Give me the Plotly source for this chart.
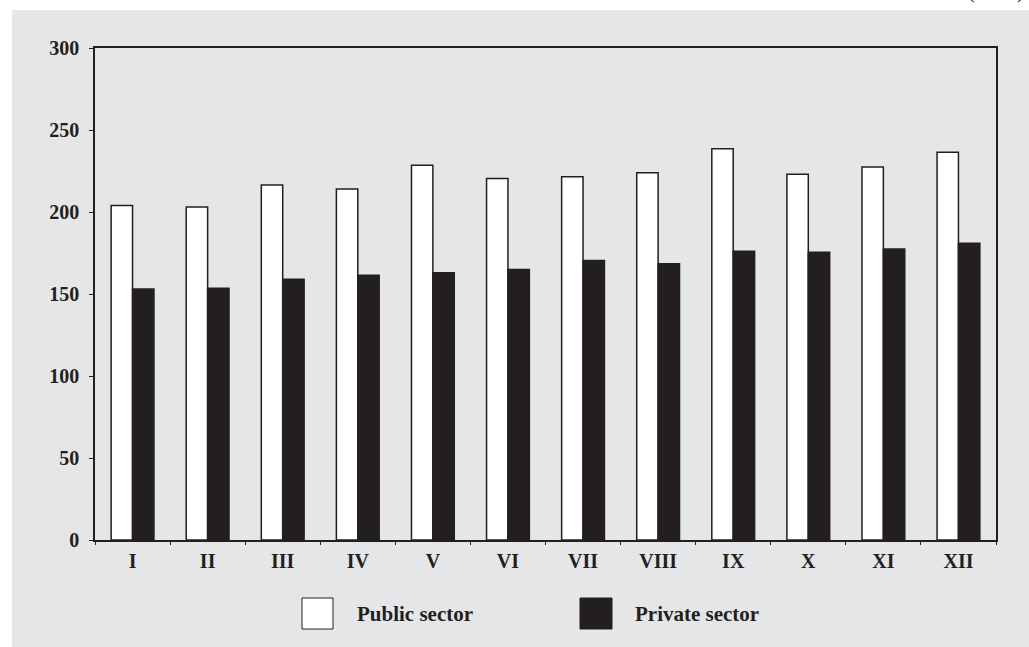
import plotly.graph_objects as go

months = ["I", "II", "III", "IV", "V", "VI", "VII", "VIII", "IX", "X", "XI", "XII"]
public_sector = [204, 203, 216.5, 214, 228.5, 220.5, 221.5, 224, 238.5, 223, 227.5, 236.5]
private_sector = [153, 153.5, 159, 161.5, 163, 165, 170.5, 168.5, 176, 175.5, 177.5, 181]
y_ticks = [0, 50, 100, 150, 200, 250, 300]

W, H = 1029, 647
L, R, T, B = 95, 33, 48, 107
pw, ph = W - L - R, H - T - B

def px(x):
    return (x - L) / pw

def py(y):
    return (H - B - y) / ph

DARK = "#231f20"
BG = "#e5e6e8"
FONT = "Liberation Serif"

fig = go.Figure()
fig.add_trace(go.Bar(x=months, y=public_sector, name="Public sector",
                     marker=dict(color="white", line=dict(color=DARK, width=1.5)),
                     showlegend=False))
fig.add_trace(go.Bar(x=months, y=private_sector, name="Private sector",
                     marker=dict(color=DARK, line=dict(color=DARK, width=1.5)),
                     showlegend=False))

shapes = [
    dict(type="rect", xref="paper", yref="paper", x0=px(12), x1=px(W + 5), y0=py(10), y1=py(H + 5),
         fillcolor=BG, line=dict(width=0), layer="below"),
    # legend boxes
    dict(type="rect", xref="paper", yref="paper", x0=px(302), x1=px(333), y0=py(598), y1=py(629),
         fillcolor="white", line=dict(color=DARK, width=1)),
    dict(type="rect", xref="paper", yref="paper", x0=px(580), x1=px(612), y0=py(598), y1=py(629),
         fillcolor=DARK, line=dict(color=DARK, width=1)),
]

annotations = [
    dict(text="Public sector", xref="paper", yref="paper", x=px(355), y=py(614),
         xanchor="left", yanchor="middle", showarrow=False,
         font=dict(family=FONT, size=21, color=DARK, weight="bold")),
    dict(text="Private sector", xref="paper", yref="paper", x=px(633), y=py(614),
         xanchor="left", yanchor="middle", showarrow=False,
         font=dict(family=FONT, size=21, color=DARK, weight="bold")),
    dict(text="(BGN)", xref="paper", yref="paper", x=px(996), y=py(5),
         xanchor="center", yanchor="bottom", showarrow=False,
         font=dict(family=FONT, size=20, color=DARK)),
]

fig.update_layout(
    width=W, height=H,
    margin=dict(l=L, r=R, t=T, b=B),
    paper_bgcolor="white",
    plot_bgcolor="rgba(0,0,0,0)",
    barmode="group",
    bargap=0.43,
    bargroupgap=0,
    shapes=shapes,
    annotations=annotations,
    xaxis=dict(showgrid=False, showline=True, linecolor=DARK, linewidth=1.5, mirror=True,
               ticks="outside", tickson="boundaries", ticklen=3, tickcolor=DARK,
               ticklabelstandoff=2,
               tickfont=dict(family=FONT, size=20, color=DARK, weight="bold")),
    yaxis=dict(range=[0, 300], tickvals=y_ticks, showgrid=False, zeroline=False,
               showline=True, linecolor=DARK, linewidth=1.5, mirror=True,
               ticks="outside", ticklen=4, tickcolor=DARK, ticklabelstandoff=6,
               tickfont=dict(family=FONT, size=20, color=DARK, weight="bold")),
)

fig.write_html("out.html")
